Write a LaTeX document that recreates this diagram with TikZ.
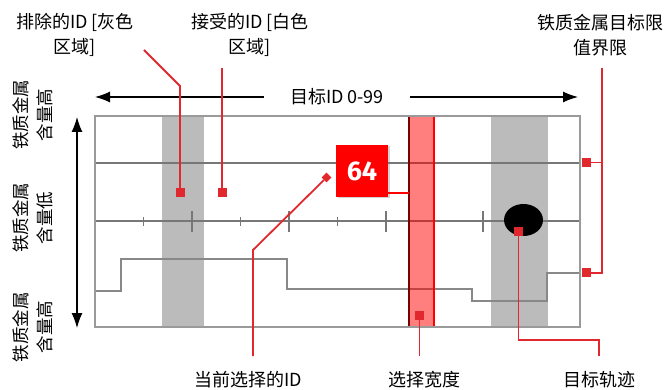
\documentclass[tikz,border=0pt]{standalone}
\usepackage{fontspec}
\setmainfont{Noto Sans CJK SC}
\newfontfamily\numfont{Fira Sans}
\usetikzlibrary{arrows.meta,shadows,positioning}

\definecolor{callred}{HTML}{E0282E}
\definecolor{bandgray}{HTML}{BBBBBB}
\definecolor{linegray}{HTML}{777777}
\definecolor{tracegray}{HTML}{888888}
\definecolor{framegray}{HTML}{9A9A9A}
\definecolor{selred}{HTML}{FF0000}
\definecolor{seldark}{HTML}{7A0000}

\begin{document}
\begin{tikzpicture}[x=1pt,y=-1pt,
  lbl/.style={align=center,inner sep=0pt,font=\fontsize{18}{25}\selectfont},
  sidelbl/.style={align=center,inner sep=0pt,rotate=90,font=\fontsize{17.5}{24}\selectfont},
  callout/.style={draw=callred,line width=1.8pt},
  sqmark/.style={fill=callred,minimum size=9pt,inner sep=0pt},
  dmmark/.style={sqmark,minimum size=7pt,rotate=45},
  bigtip/.tip={Latex[length=15pt,width=11pt]},
  numbox/.style={fill=selred,minimum size=52pt,inner sep=0pt,text=white,
                 font=\numfont\bfseries\fontsize{27}{27}\selectfont,
                 drop shadow={opacity=0.35,shadow xshift=1.5pt,shadow yshift=-1.5pt}}]
\useasboundingbox (0,0) rectangle (667,390);

% bands
\fill[bandgray] (162,116) rectangle (204,327);
\fill[bandgray] (491,116) rectangle (548,327);

% threshold line, ID axis and ticks
\draw[linegray,line width=2pt] (95,163) -- (580,163);
\draw[linegray,line width=2.4pt] (95,221) -- (580,221);
\foreach \k in {1,...,9}{
  \pgfmathsetmacro\tx{95+48.5*\k}
  \ifodd\k
    \draw[linegray,line width=1.5pt] (\tx,217) -- (\tx,226);
  \else
    \draw[linegray,line width=1.5pt] (\tx,211) -- (\tx,232);
  \fi
}

% lower trace
\draw[tracegray,line width=1.5pt] (95,291) -- (121,291) -- (121,259) -- (287,259)
  -- (287,289) -- (472,289) -- (472,301) -- (547,301) -- (547,273) -- (580,273);

% target
\fill[black] (523.5,220) ellipse (19.5 and 16);

% selection width
\fill[selred,fill opacity=0.5] (409,116) rectangle (434,327);
\draw[seldark,line width=2.4pt] (409,116) -- (409,327);
\draw[selred,line width=2.6pt] (434,116) -- (434,327);

% frame
\draw[framegray,line width=1.2pt] (95,116) rectangle (580,327);

% labels
\node[lbl] (lblExcl) at (75,35) {排除的ID [灰色\\区域]};
\node[lbl] (lblAcc) at (250,35) {接受的ID [白色\\区域]};
\node[lbl] (lblThr) at (600,35) {铁质金属目标限\\值界限};
\node[lbl,inner xsep=26pt] (lblRange) at (337,97) {目标ID 0-99};
\node[lbl] (lblCur) at (248,380) {当前选择的ID};
\node[lbl] (lblWidth) at (424,380) {选择宽度};
\node[lbl] (lblTrack) at (599,380) {目标轨迹};
\node[sidelbl] (lblHiTop) at (33,115) {铁质金属\\含量高};
\node[sidelbl] (lblLow) at (33,218) {铁质金属\\含量低};
\node[sidelbl] (lblHiBot) at (33,327) {铁质金属\\含量高};

% range arrows
\coordinate (idMin) at (95,97);
\coordinate (idMax) at (578,97);
\coordinate (feTop) at (77,117);
\coordinate (feBot) at (77,328);
\draw[-bigtip,line width=1.2pt] (lblRange.west) -- (idMin);
\draw[-bigtip,line width=1.2pt] (lblRange.east) -- (idMax);
\draw[bigtip-bigtip,line width=1.2pt] (feTop) -- (feBot);

% current ID box
\node[numbox] (cur) at (362,171) {64};
\draw[selred,line width=2pt] ([yshift=4pt]cur.south east) -- ++(21,0);

% markers
\node[sqmark] (mExcl) at (180,193) {};
\node[sqmark] (mAcc) at (222,193) {};
\node[sqmark] (mThrHi) at (586.5,162.5) {};
\node[sqmark] (mThrLo) at (586.5,273) {};
\node[dmmark] (mCur) at (326.5,177.5) {};
\node[sqmark] (mWidth) at (419.5,315.5) {};
\node[sqmark] (mTrack) at (518.5,231.5) {};

% callouts
\coordinate (exclEnd) at (144,50);
\coordinate (accEnd) at (222,68);
\coordinate (thrEnd) at (602,68);
\coordinate (curEnd) at (253,356);
\coordinate (widthEnd) at (419.5,356);
\coordinate (trackEnd) at (599,356);
\draw[callout] (exclEnd) -- ++(36,36) -- (mExcl);
\draw[callout] (accEnd) -- (mAcc);
\draw[callout] (thrEnd) |- (mThrHi);
\draw[callout] (thrEnd) |- (mThrLo);
\draw[callout] (curEnd) -- ++(0,-106) -- (mCur);
\draw[callout] (widthEnd) -- (mWidth);
\draw[callout] (trackEnd) -- ++(0,-16) -| (mTrack);
\end{tikzpicture}
\end{document}
